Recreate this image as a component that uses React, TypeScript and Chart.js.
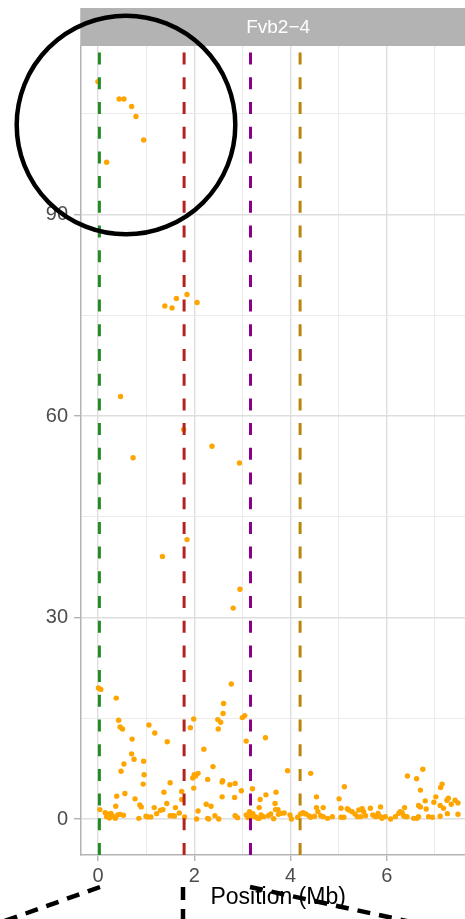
import React, { useEffect, useRef } from 'react';
import { Chart, registerables } from 'chart.js';

Chart.register(...registerables);

// Marker positions (Mb) and their scores
const positionMb = [
  0.00, 0.18, 0.44, 0.54, 0.70, 0.79, 0.95, 1.39, 1.54, 1.63,
  1.85, 2.06, 0.47, 1.78, 2.37, 0.73, 2.94, 1.34, 1.85, 2.95,
  2.81, 0.01, 0.06, 0.38, 0.43, 0.46, 0.51, 1.06, 1.18, 0.71,
  1.44, 1.99, 1.92, 2.20, 0.70, 0.75, 0.95, 0.54, 0.48, 0.96,
  0.94, 1.50, 0.56, 0.39, 0.77, 1.37, 1.43, 0.87, 0.90, 0.37,
  1.17, 1.35, 1.30, 1.61, 1.74, 1.74, 1.69, 2.00, 1.97, 2.03,
  2.08, 1.99, 2.28, 2.25, 2.08, 0.04, 0.15, 0.20, 0.27, 0.18,
  0.24, 0.30, 0.36, 0.41, 0.46, 0.53, 0.85, 1.00, 1.03, 1.10,
  1.22, 1.50, 1.55, 1.59, 1.80, 2.05, 2.30, 2.77, 2.61, 2.60,
  2.49, 2.55, 2.50, 3.00, 3.05, 3.08, 3.48, 2.39, 2.58, 2.59,
  2.74, 2.85, 2.98, 3.21, 2.58, 2.84, 2.35, 3.94, 4.42, 4.54,
  3.49, 3.37, 3.70, 3.68, 3.35, 3.69, 3.74, 3.87, 4.68, 4.54,
  4.57, 2.43, 2.51, 2.28, 2.85, 2.90, 3.08, 3.15, 3.18, 3.25,
  3.32, 3.39, 3.44, 3.35, 3.54, 3.59, 3.65, 3.75, 3.81, 3.99,
  4.02, 4.15, 4.21, 4.26, 4.32, 4.39, 4.42, 4.63, 4.68, 4.77,
  4.87, 6.75, 6.43, 6.62, 6.70, 5.12, 5.01, 7.12, 7.15, 7.02,
  6.80, 6.98, 7.25, 7.28, 7.42, 7.48, 7.34, 6.70, 7.18, 6.82,
  7.26, 7.48, 7.11, 6.37, 5.87, 5.66, 5.05, 6.66, 7.11, 5.18,
  5.21, 5.28, 5.34, 5.42, 5.49, 5.52, 5.46, 5.39, 5.56, 5.71,
  5.77, 5.82, 5.87, 5.90, 5.97, 6.08, 6.18, 6.25, 6.28, 6.32,
  6.35, 6.39, 6.42, 6.56, 6.63, 6.66, 6.87, 6.95, 5.05, 5.11,
  3.12, 3.22, 3.28, 4.50,
];

const lodScore = [
  109.8, 97.8, 107.2, 107.2, 106.1, 104.6, 101.1, 76.4, 76.1, 77.5,
  78.1, 76.9, 62.9, 58.0, 55.5, 53.8, 53.0, 39.1, 41.6, 34.2,
  31.4, 19.5, 19.3, 18.0, 14.7, 13.7, 13.4, 14.0, 12.8, 11.9,
  11.5, 14.9, 13.6, 10.4, 9.7, 8.9, 8.6, 8.2, 7.1, 6.6,
  5.2, 5.4, 3.8, 3.4, 3.0, 4.0, 2.3, 2.1, 1.8, 1.9,
  1.7, 1.4, 1.3, 1.7, 4.1, 2.9, 0.9, 6.6, 6.1, 6.4,
  6.8, 4.6, 5.9, 2.2, 1.2, 1.4, 0.94, 0.74, 0.84, 0.35,
  0.15, 0.45, 0.10, 0.60, 0.69, 0.55, 0.1, 0.4, 0.3, 0.3,
  0.8, 0.5, 0.5, 0.45, 0.3, 0.0, 0.0, 20.1, 17.2, 15.7,
  14.8, 14.4, 13.4, 15.1, 15.4, 11.6, 12.1, 7.8, 5.5, 5.7,
  5.1, 5.3, 4.2, 4.5, 3.3, 3.2, 1.9, 7.2, 6.8, 3.3,
  3.6, 2.9, 4.0, 2.3, 1.7, 1.4, 1.4, 0.9, 1.7, 1.7,
  1.1, 0.5, 0.0, 0.1, 0.5, 0.2, 0.6, 1.1, 0.5, 0.35,
  0.1, 0.6, 0.35, 0.1, 0.5, 0.74, 0.05, 0.69, 0.84, 0.6,
  0.0, 0.25, 0.74, 0.94, 0.74, 0.45, 0.25, 0.5, 0.35, 0.1,
  0.35, 7.4, 6.4, 6.0, 4.3, 4.8, 3.0, 4.7, 5.2, 3.3,
  2.7, 2.5, 2.8, 3.1, 2.8, 2.4, 2.2, 1.8, 1.6, 1.5,
  0.8, 0.7, 0.4, 1.7, 1.8, 1.6, 1.6, 2.0, 2.0, 1.54,
  1.34, 1.09, 0.74, 1.34, 1.54, 1.09, 0.35, 0.35, 0.5, 0.6,
  0.35, 0.84, 0.35, 0.1, 0.35, 0.0, 0.35, 0.84, 1.09, 0.94,
  0.5, 0.35, 0.35, 0.1, 0.1, 0.35, 0.35, 0.25, 0.25, 0.25,
  0.2, 0.8, 0.3, 0.4,
];

// Reference (dashed) lines
const markerLinePositions = [0.03, 1.79, 3.17, 4.2];
const markerLineColors = ['#228B22', '#B22222', '#8B008B', '#B8860B'];

// Axis ticks
const yTickValues = [0, 15, 30, 45, 60, 75, 90, 105];
const yLabelValues = [0, 30, 60, 90];
const xTickValues = [0, 1, 2, 3, 4, 5, 6, 7];
const xLabelValues = [0, 2, 4, 6];

const panelTitle = 'Fvb2\u22124';
const xAxisTitle = 'Position (Mb)';

const FONT = '"Liberation Sans", Arial, Helvetica, sans-serif';

const decorPlugin = {
  id: 'decor',
  beforeDraw(chart: any) {
    const { ctx, chartArea } = chart;
    ctx.save();
    ctx.fillStyle = '#ffffff';
    ctx.fillRect(0, 0, chart.width, chart.height);
    // facet strip
    ctx.fillStyle = '#b3b3b3';
    ctx.fillRect(chartArea.left - 0.75, 8, chartArea.right - chartArea.left + 1.5, 38);
    ctx.fillStyle = '#ffffff';
    ctx.font = `19px ${FONT}`;
    ctx.textAlign = 'center';
    ctx.textBaseline = 'middle';
    ctx.fillText(panelTitle, (chartArea.left + chartArea.right) / 2, 27.5);
    ctx.restore();
  },
  afterDatasetsDraw(chart: any) {
    const { ctx, chartArea } = chart;
    const xs = chart.scales.x;
    ctx.save();
    ctx.beginPath();
    ctx.rect(chartArea.left, chartArea.top, chartArea.right - chartArea.left, chartArea.bottom - chartArea.top);
    ctx.clip();
    ctx.lineWidth = 3;
    ctx.setLineDash([12, 12.7]);
    markerLinePositions.forEach((p, i) => {
      const px = xs.getPixelForValue(p);
      ctx.strokeStyle = markerLineColors[i];
      ctx.beginPath();
      ctx.moveTo(px, chartArea.bottom);
      ctx.lineTo(px, chartArea.top);
      ctx.stroke();
    });
    ctx.restore();
  },
  afterDraw(chart: any) {
    const { ctx, chartArea } = chart;
    ctx.save();
    // x axis title
    ctx.fillStyle = '#000000';
    ctx.font = `23px ${FONT}`;
    ctx.textAlign = 'center';
    ctx.textBaseline = 'middle';
    ctx.fillText(xAxisTitle, (chartArea.left + chartArea.right) / 2, 898);
    // highlight circle
    ctx.strokeStyle = '#000000';
    ctx.lineWidth = 4.5;
    ctx.beginPath();
    ctx.arc(126, 125, 109.3, 0, Math.PI * 2);
    ctx.stroke();
    // dashed callout lines
    ctx.lineWidth = 4.5;
    ctx.setLineDash([13, 9]);
    ctx.beginPath();
    ctx.moveTo(100, 887);
    ctx.lineTo(0, 922.6);
    ctx.stroke();
    ctx.beginPath();
    ctx.moveTo(183, 887);
    ctx.lineTo(183, 930);
    ctx.stroke();
    ctx.beginPath();
    ctx.moveTo(250, 887);
    ctx.lineTo(480, 937);
    ctx.stroke();
    ctx.restore();
  },
};

export default function App() {
  const canvasRef = useRef<HTMLCanvasElement | null>(null);

  useEffect(() => {
    const canvas = canvasRef.current;
    if (!canvas) return;
    const majorGrid = '#dedede';
    const minorGrid = '#ebebeb';
    const chart = new Chart(canvas, {
      type: 'scatter',
      data: {
        datasets: [
          {
            data: positionMb.map((x, i) => ({ x, y: lodScore[i] })),
            backgroundColor: '#FFA500',
            borderWidth: 0,
            pointRadius: 2.7,
            pointHoverRadius: 2.7,
          },
        ],
      },
      options: {
        responsive: false,
        animation: false,
        devicePixelRatio: 1,
        events: [],
        layout: { padding: { top: 46, left: 0, right: 1, bottom: 0 } },
        plugins: { legend: { display: false }, tooltip: { enabled: false } },
        scales: {
          x: {
            type: 'linear',
            min: -0.352,
            max: 7.84,
            afterBuildTicks: (scale: any) => {
              scale.ticks = xTickValues.map((v) => ({ value: v }));
            },
            afterFit: (scale: any) => {
              scale.height = 64;
            },
            ticks: {
              autoSkip: false,
              maxRotation: 0,
              padding: 3,
              color: '#4d4d4d',
              font: { family: FONT, size: 20 },
              callback: (v: any) => (xLabelValues.includes(Number(v)) ? String(v) : ''),
            },
            grid: {
              color: (c: any) => (c.tick && xLabelValues.includes(c.tick.value) ? majorGrid : minorGrid),
              lineWidth: (c: any) => (c.tick && xLabelValues.includes(c.tick.value) ? 1.4 : 1),
              tickColor: (c: any) => (c.tick && xLabelValues.includes(c.tick.value) ? '#b3b3b3' : 'rgba(0,0,0,0)'),
              tickLength: 6,
              tickWidth: 1.4,
            },
            border: { display: true, color: '#b3b3b3', width: 1.5 },
          },
          y: {
            type: 'linear',
            min: -5.36,
            max: 115.1,
            afterBuildTicks: (scale: any) => {
              scale.ticks = yTickValues.map((v) => ({ value: v }));
            },
            afterFit: (scale: any) => {
              scale.width = 81;
            },
            ticks: {
              autoSkip: false,
              padding: 6,
              color: '#4d4d4d',
              font: { family: FONT, size: 20 },
              callback: (v: any) => (yLabelValues.includes(Number(v)) ? String(v) : ''),
            },
            grid: {
              color: (c: any) => (c.tick && yLabelValues.includes(c.tick.value) ? majorGrid : minorGrid),
              lineWidth: (c: any) => (c.tick && yLabelValues.includes(c.tick.value) ? 1.4 : 1),
              tickColor: (c: any) => (c.tick && yLabelValues.includes(c.tick.value) ? '#b3b3b3' : 'rgba(0,0,0,0)'),
              tickLength: 7,
              tickWidth: 1.4,
            },
            border: { display: true, color: '#b3b3b3', width: 1.5 },
          },
        },
      },
      plugins: [decorPlugin],
    });
    return () => chart.destroy();
  }, []);

  return (
    <div style={{ position: 'absolute', left: 0, top: 0, width: 465, height: 919, overflow: 'hidden', background: '#fff' }}>
      <canvas ref={canvasRef} width={478} height={919} style={{ display: 'block', width: 478, height: 919 }} />
    </div>
  );
}
